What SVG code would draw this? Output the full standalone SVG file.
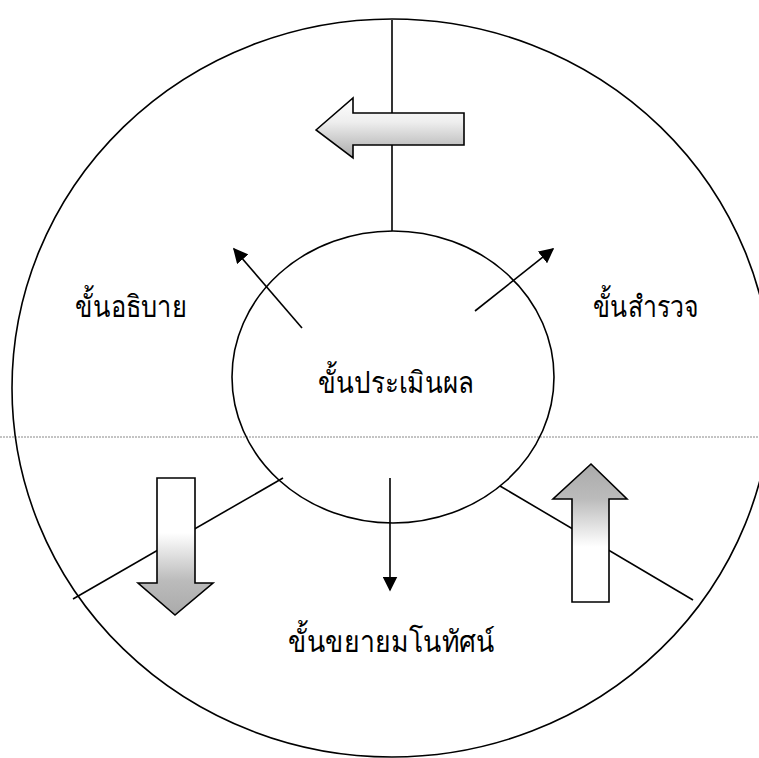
<svg xmlns="http://www.w3.org/2000/svg" width="759" height="758" viewBox="0 0 759 758">
<style>
.ln{stroke:#000;stroke-width:1.6;fill:none}
.blk{stroke:#000;stroke-width:1.6;stroke-linejoin:miter}
.lbl{font-family:"Noto Sans","DejaVu Sans",sans-serif;font-size:30px;font-weight:300;fill:#000}
</style>
<defs>
<marker id="ahL" viewBox="0 0 10 10" refX="9" refY="5" markerWidth="15" markerHeight="15" markerUnits="userSpaceOnUse" orient="auto">
<path d="M0,0 L10,5 L0,10 Z" fill="#000"/>
</marker>
<linearGradient id="gTop" x1="0" y1="0" x2="0" y2="1">
<stop offset="0" stop-color="#fff"/>
<stop offset="0.4" stop-color="#eee"/>
<stop offset="1" stop-color="#aaa"/>
</linearGradient>
<linearGradient id="gDown" x1="0" y1="0" x2="0" y2="1">
<stop offset="0" stop-color="#fff"/>
<stop offset="0.4" stop-color="#fff"/>
<stop offset="0.75" stop-color="#bbb"/>
<stop offset="1" stop-color="#aaa"/>
</linearGradient>
<linearGradient id="gUp" x1="0" y1="1" x2="0" y2="0">
<stop offset="0" stop-color="#fff"/>
<stop offset="0.4" stop-color="#fff"/>
<stop offset="0.75" stop-color="#bbb"/>
<stop offset="1" stop-color="#aaa"/>
</linearGradient>
</defs>
<rect width="759" height="758" fill="#fff"/>
<line x1="0" y1="437" x2="759" y2="437" stroke="#888" stroke-width="1" stroke-dasharray="2,1"/>
<g id="outer-circle">
<ellipse cx="392" cy="388" rx="380" ry="369" class="ln"/>
</g>
<g id="connectors">
<line x1="392" y1="20" x2="392" y2="231" class="ln"/>
<line x1="73" y1="599" x2="283" y2="478" class="ln"/>
<line x1="500" y1="486" x2="693" y2="600" class="ln"/>
<line x1="302" y1="328" x2="234" y2="249" class="ln" marker-end="url(#ahL)"/>
<line x1="475" y1="311" x2="553" y2="249" class="ln" marker-end="url(#ahL)"/>
<line x1="390" y1="478" x2="390" y2="590" class="ln" marker-end="url(#ahL)"/>
</g>
<g id="center">
<ellipse cx="393" cy="377" rx="161" ry="146" fill="none" class="ln"/>
<text x="318" y="393" class="lbl" textLength="156" lengthAdjust="spacingAndGlyphs">ขั้นประเมินผล</text>
</g>
<g id="explain">
<text x="75" y="317" class="lbl" textLength="112" lengthAdjust="spacingAndGlyphs">ขั้นอธิบาย</text>
</g>
<g id="explore">
<text x="593" y="317" class="lbl" textLength="106" lengthAdjust="spacingAndGlyphs">ขั้นสำรวจ</text>
</g>
<g id="elaborate">
<text x="288" y="652" class="lbl" textLength="207" lengthAdjust="spacingAndGlyphs">ขั้นขยายมโนทัศน์</text>
</g>
<g id="arrow-top">
<path d="M316,130 L353,98 L353,113 L464,113 L464,145 L353,145 L353,158 Z" fill="url(#gTop)" class="blk"/>
</g>
<g id="arrow-down">
<path d="M157,478 L195,478 L195,583 L213,583 L175,615 L138,583 L157,583 Z" fill="url(#gDown)" class="blk"/>
</g>
<g id="arrow-up">
<path d="M591,464 L627,499 L609,499 L609,602 L572,602 L572,499 L553,499 Z" fill="url(#gUp)" class="blk"/>
</g>
</svg>
